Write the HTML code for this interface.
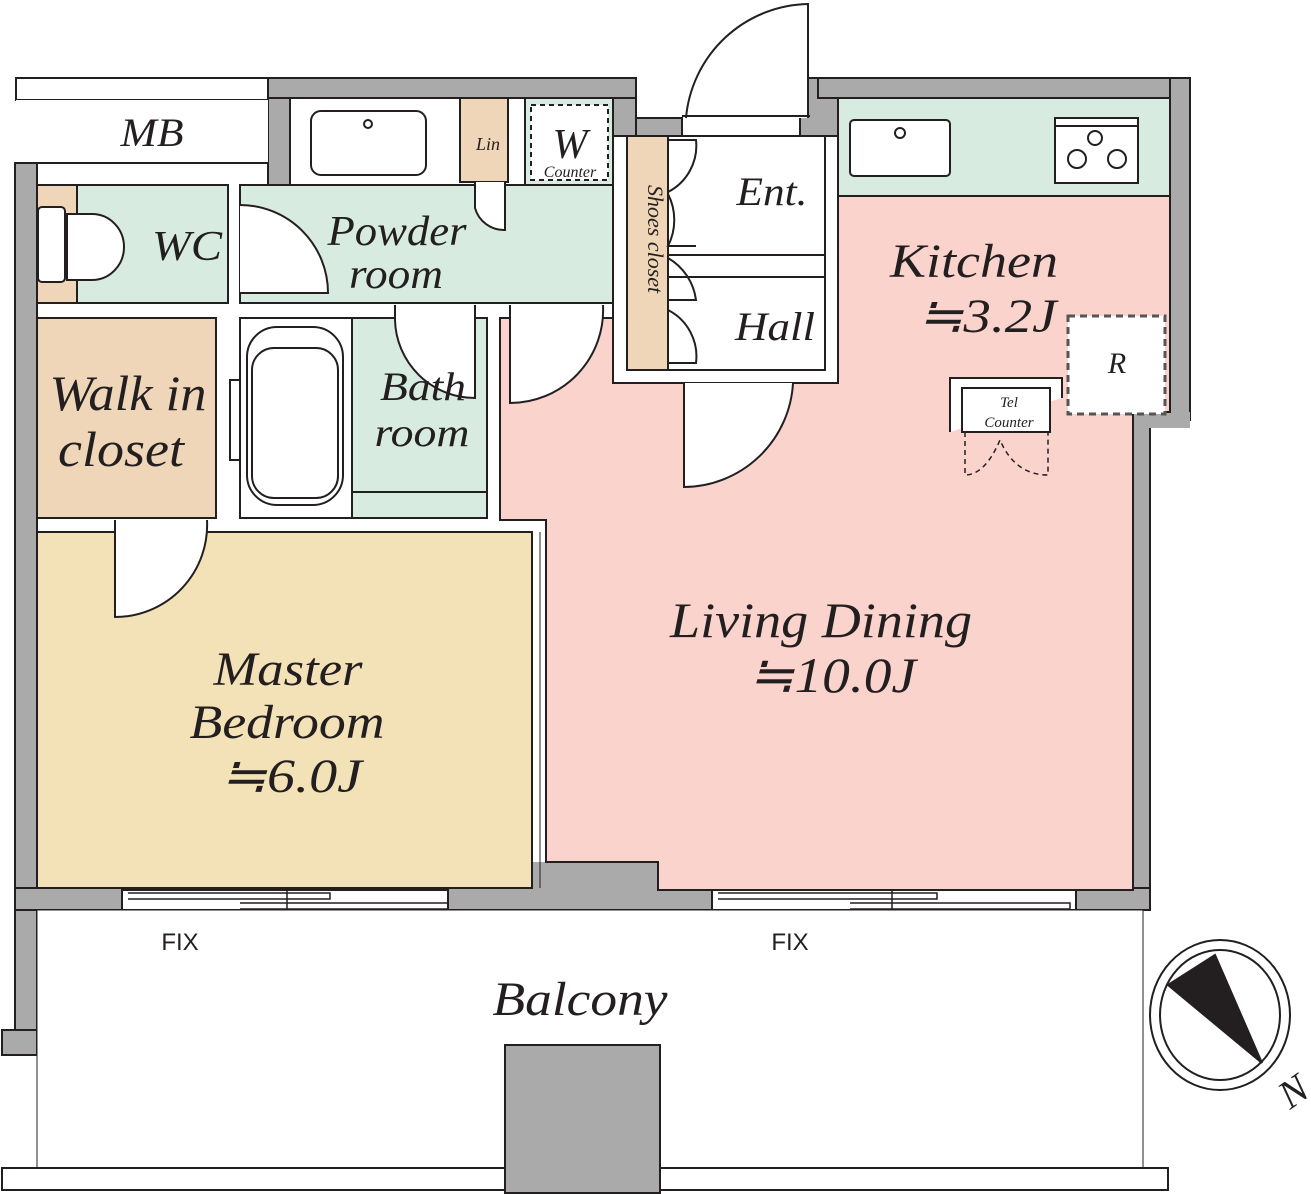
<!DOCTYPE html>
<html><head><meta charset="utf-8"><style>body{margin:0;background:#fff}svg{display:block}text{font-family:"Liberation Serif",serif;font-style:italic;fill:#231f20}</style></head><body>
<svg width="1311" height="1194" viewBox="0 0 1311 1194" xmlns="http://www.w3.org/2000/svg" stroke="#231f20" stroke-width="2">
<g fill="#aaaaaa">
<rect x="15" y="163" width="22" height="870"/>
<rect x="2" y="1030" width="35" height="25"/>
<rect x="268" y="78" width="22" height="107"/>
<rect x="268" y="78" width="368" height="20"/>
<rect x="613" y="98" width="23" height="38"/>
<rect x="636" y="118" width="46" height="18"/>
<rect x="800" y="78" width="38" height="58"/>
<rect x="818" y="78" width="372" height="20"/>
<rect x="1170" y="78" width="20" height="342"/>
<rect x="1133" y="420" width="17" height="490"/>
<rect x="1133" y="412" width="57" height="16" stroke="none"/>
<rect x="15" y="888" width="1135" height="22"/>
<rect x="532" y="862" width="126" height="30" stroke="none"/>
</g>
<!-- MB -->
<rect x="16" y="78" width="252" height="22" fill="#fff"/>
<rect x="16" y="100" width="252" height="63" fill="#fff" stroke="none"/>
<line x1="16" y1="163" x2="268" y2="163"/>
<text x="152" y="146" font-size="40" text-anchor="middle" stroke="none" textLength="63" lengthAdjust="spacingAndGlyphs">MB</text>
<!-- top fixtures -->
<rect x="290" y="98" width="323" height="87" fill="#fff"/>
<rect x="311" y="111" width="115" height="64" rx="10" fill="#fff"/>
<circle cx="368" cy="124" r="4" fill="#fff"/>
<rect x="460" y="98" width="48" height="84" fill="#efd6b8"/>
<text x="488" y="150" font-size="18" text-anchor="middle" stroke="none">Lin</text>
<rect x="525" y="98" width="88" height="87" fill="#d7ebe0"/>
<rect x="531" y="105" width="77" height="75" fill="#fff" stroke-dasharray="5,4"/>
<text x="570" y="158" font-size="42" text-anchor="middle" stroke="none">W</text>
<text x="570" y="177" font-size="16" text-anchor="middle" stroke="none">Counter</text>
<!-- WC & powder -->
<rect x="37" y="185" width="191" height="118" fill="#d7ebe0"/>
<rect x="37" y="185" width="40" height="118" fill="#efd6b8"/>
<line x1="77" y1="185" x2="77" y2="303" stroke-dasharray="6,5"/>
<rect x="38" y="207" width="27" height="75" rx="4" fill="#fff"/>
<path d="M67 214 H92 A32 33 0 0 1 92 280 H67 Z" fill="#fff"/>
<text x="187" y="260" font-size="42" text-anchor="middle" stroke="none" textLength="70" lengthAdjust="spacingAndGlyphs">WC</text>
<rect x="240" y="185" width="373" height="118" fill="#d7ebe0"/>
<path d="M240 205 A88 88 0 0 1 328 293 H240" fill="#fff"/>
<path d="M475 182 V208 A30 30 0 0 0 505 230 V182" fill="#fff"/>
<text x="397" y="245" font-size="42" text-anchor="middle" stroke="none" textLength="139" lengthAdjust="spacingAndGlyphs">Powder</text>
<text x="396" y="288" font-size="42" text-anchor="middle" stroke="none" textLength="94" lengthAdjust="spacingAndGlyphs">room</text>
<!-- walk in / bath -->
<rect x="37" y="318" width="179" height="200" fill="#efd6b8"/>
<text x="128" y="410" font-size="50" text-anchor="middle" stroke="none" textLength="157" lengthAdjust="spacingAndGlyphs">Walk in</text>
<text x="121" y="466" font-size="50" text-anchor="middle" stroke="none" textLength="126" lengthAdjust="spacingAndGlyphs">closet</text>
<rect x="240" y="318" width="112" height="200" fill="#fff"/>
<rect x="247" y="327" width="96" height="178" rx="30" fill="#fff"/>
<rect x="252" y="348" width="86" height="150" rx="22" fill="#fff"/>
<rect x="230" y="380" width="10" height="80" fill="#fff"/>
<rect x="352" y="318" width="135" height="200" fill="#d7ebe0"/>
<line x1="352" y1="492" x2="487" y2="492"/>
<path d="M395 305 V320 A80 80 0 0 0 475 398 V305" fill="#fff"/>
<text x="423" y="400" font-size="40" text-anchor="middle" stroke="none" textLength="86" lengthAdjust="spacingAndGlyphs">Bath</text>
<text x="422" y="446" font-size="40" text-anchor="middle" stroke="none" textLength="95" lengthAdjust="spacingAndGlyphs">room</text>
<!-- living pink -->
<path d="M500 318 H613 V383 H838 V196 H1170 V412 H1133 V890 H658 V862 H546 V520 H500 Z" fill="#f9d3cc"/>
<path d="M510 305 V403 A93 93 0 0 0 603 305" fill="#fff"/>
<!-- kitchen -->
<rect x="838" y="98" width="332" height="98" fill="#d7ebe0"/>
<rect x="850" y="120" width="100" height="56" rx="4" fill="#fff"/>
<circle cx="900" cy="133" r="5" fill="#fff"/>
<rect x="1055" y="118" width="83" height="65" fill="#fff"/>
<line x1="1055" y1="126" x2="1138" y2="126"/>
<circle cx="1095" cy="138" r="7" fill="#fff"/><circle cx="1077" cy="159" r="9" fill="#fff"/><circle cx="1117" cy="159" r="9" fill="#fff"/>
<text x="974" y="277" font-size="48" text-anchor="middle" stroke="none" textLength="168" lengthAdjust="spacingAndGlyphs">Kitchen</text>
<text x="987" y="332" font-size="48" text-anchor="middle" stroke="none" textLength="139" lengthAdjust="spacingAndGlyphs">≒3.2J</text>
<rect x="1068" y="316" width="97" height="98" fill="#fff" stroke="#555" stroke-width="3" stroke-dasharray="7,5"/>
<text x="1117" y="373" font-size="30" text-anchor="middle" stroke="none">R</text>
<path d="M950 432 V378 H1062 V398" fill="#fff"/>
<rect x="962" y="388" width="88" height="44" fill="#fff"/>
<text x="1009" y="407" font-size="15" text-anchor="middle" stroke="none">Tel</text>
<text x="1009" y="427" font-size="15" text-anchor="middle" stroke="none">Counter</text>
<path d="M965 432 V475 Q985 475 1000 440 Q1015 475 1048 475 V432" fill="none" stroke-dasharray="5,4" stroke-width="1.5"/>
<!-- hall/ent -->
<rect x="613" y="136" width="225" height="247" fill="#fff"/>
<rect x="627" y="136" width="41" height="234" fill="#efd6b8"/>
<rect x="668" y="136" width="157" height="234" fill="#fff"/>
<line x1="668" y1="255" x2="825" y2="255"/><line x1="668" y1="277" x2="825" y2="277"/>
<path d="M668 140 H696 A52 52 0 0 1 668 192 M668 194 A57 57 0 0 1 668 246 H696 M668 258 A57 57 0 0 1 696 300 H668 M668 310 A52 52 0 0 1 696 363 H668" fill="none"/>
<text x="648" y="185" font-size="22" stroke="none" transform="rotate(90 648 185)">Shoes closet</text>
<text x="772" y="205" font-size="40" text-anchor="middle" stroke="none" textLength="71" lengthAdjust="spacingAndGlyphs">Ent.</text>
<text x="775" y="340" font-size="40" text-anchor="middle" stroke="none" textLength="80" lengthAdjust="spacingAndGlyphs">Hall</text>
<path d="M808 118 V4 A125 125 0 0 0 686 118" fill="#fff"/>
<line x1="682" y1="116" x2="810" y2="116"/>
<path d="M684 383 V487 A110 110 0 0 0 793 383" fill="#fff"/>
<text x="821" y="637" font-size="50" text-anchor="middle" stroke="none" textLength="302" lengthAdjust="spacingAndGlyphs">Living Dining</text>
<text x="832" y="692" font-size="50" text-anchor="middle" stroke="none" textLength="168" lengthAdjust="spacingAndGlyphs">≒10.0J</text>
<!-- master -->
<rect x="37" y="532" width="495" height="356" fill="#f3e2b7"/>
<line x1="540" y1="532" x2="540" y2="888" stroke-width="1"/>
<path d="M115 520 V617 A92 92 0 0 0 207 520" fill="#fff"/>
<text x="288" y="685" font-size="48" text-anchor="middle" stroke="none" textLength="149" lengthAdjust="spacingAndGlyphs">Master</text>
<text x="287" y="738" font-size="48" text-anchor="middle" stroke="none" textLength="195" lengthAdjust="spacingAndGlyphs">Bedroom</text>
<text x="291" y="792" font-size="48" text-anchor="middle" stroke="none" textLength="142" lengthAdjust="spacingAndGlyphs">≒6.0J</text>
<!-- windows -->
<rect x="122" y="890" width="326" height="20" fill="#fff"/>
<path d="M128 893 H330 V899 H128 M240 903 H448 V909 H240 M287 890 V910" fill="none" stroke-width="1.5"/>
<rect x="712" y="890" width="364" height="20" fill="#fff"/>
<path d="M718 893 H937 V899 H718 M850 903 H1070 V909 H850 M892 890 V910" fill="none" stroke-width="1.5"/>
<!-- balcony -->
<rect x="37" y="910" width="1106" height="258" fill="#fff" stroke-width="1"/>
<rect x="2" y="1168" width="1166" height="22" fill="#fff"/>
<rect x="505" y="1045" width="155" height="148" fill="#aaaaaa"/>
<text x="180" y="950" font-size="24" text-anchor="middle" stroke="none" style="font-style:normal;font-family:'Liberation Sans Narrow','Liberation Sans',sans-serif">FIX</text>
<text x="790" y="950" font-size="24" text-anchor="middle" stroke="none" style="font-style:normal;font-family:'Liberation Sans Narrow','Liberation Sans',sans-serif">FIX</text>
<text x="580" y="1015" font-size="48" text-anchor="middle" stroke="none" textLength="175" lengthAdjust="spacingAndGlyphs">Balcony</text>
<!-- compass -->
<ellipse cx="1220" cy="1015" rx="70" ry="75" fill="#fff"/>
<ellipse cx="1220" cy="1015" rx="60" ry="65" fill="#fff"/>
<path d="M1168 985 L1215 955 L1262 1063 Z" fill="#231f20"/>
<text x="1290" y="1110" font-size="40" stroke="none" transform="rotate(-35 1290 1110)">N</text>
</svg>
</body></html>
